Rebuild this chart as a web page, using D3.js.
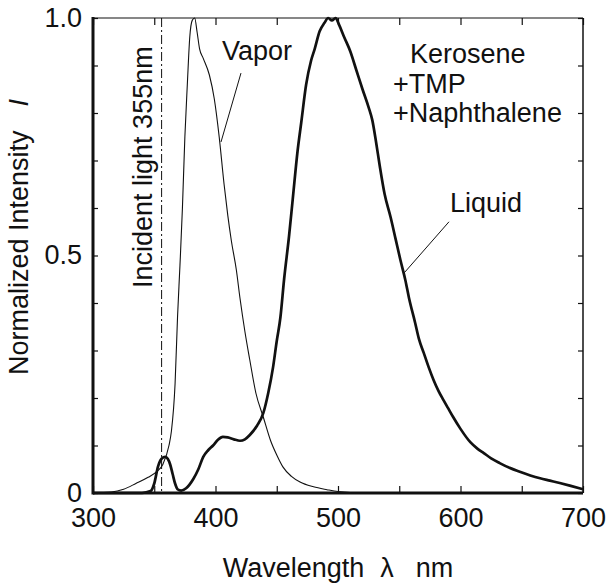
<!DOCTYPE html>
<html>
<head>
<meta charset="utf-8">
<script src="https://cdn.jsdelivr.net/npm/d3@7"></script>
<style>
  body { margin: 0; background: #fff; }
  text { font-family: "Liberation Sans", Arial, Helvetica, sans-serif; fill: #111; }
</style>
</head>
<body>
<svg id="chart" width="611" height="586"></svg>
<script>
// Vapor spectrum (thin line)
const vaporWavelength = [300, 315, 325, 335, 345, 352, 357, 362, 364, 367, 369, 371, 373, 375, 377, 379, 381, 383, 385, 387, 390, 395, 399, 403, 407, 410, 413, 417, 420, 424, 428, 433, 439, 445, 450, 455, 462, 469, 480, 491, 500, 520, 700];
const vaporIntensity  = [0, 0.002, 0.008, 0.02, 0.033, 0.045, 0.06, 0.1, 0.13, 0.23, 0.37, 0.48, 0.6, 0.75, 0.86, 0.96, 0.995, 1.0, 0.97, 0.935, 0.915, 0.88, 0.83, 0.75, 0.65, 0.585, 0.53, 0.47, 0.41, 0.34, 0.28, 0.21, 0.16, 0.11, 0.08, 0.055, 0.035, 0.023, 0.013, 0.007, 0.003, 0, 0];

// Liquid spectrum (thick line)
const liquidWavelength = [300, 340, 347, 350, 353, 356, 359, 361, 363, 365, 367, 369, 372, 376, 382, 386, 390, 394, 398, 402, 406, 410, 415, 420, 424, 428, 434, 439, 443, 447, 450, 453, 456, 460, 463, 467, 470, 474, 478, 481, 485, 489, 492, 495, 498, 501, 505, 510, 515, 520, 525, 528, 531, 534, 538, 543, 547, 551, 555, 558, 563, 566, 570, 574, 578, 582, 586, 590, 594, 600, 608, 614, 619, 625, 632, 640, 649, 657, 665, 673, 681, 690, 700];
const liquidIntensity  = [0, 0, 0.004, 0.02, 0.055, 0.072, 0.076, 0.072, 0.06, 0.04, 0.02, 0.008, 0.005, 0.01, 0.03, 0.05, 0.076, 0.09, 0.1, 0.112, 0.118, 0.117, 0.113, 0.11, 0.113, 0.122, 0.142, 0.168, 0.21, 0.265, 0.32, 0.37, 0.45, 0.54, 0.617, 0.72, 0.78, 0.86, 0.91, 0.935, 0.972, 0.99, 1.0, 0.995, 1.0, 0.985, 0.96, 0.93, 0.89, 0.85, 0.812, 0.785, 0.74, 0.69, 0.63, 0.58, 0.535, 0.49, 0.448, 0.41, 0.358, 0.325, 0.295, 0.265, 0.238, 0.215, 0.196, 0.178, 0.16, 0.135, 0.107, 0.093, 0.084, 0.073, 0.063, 0.053, 0.044, 0.037, 0.031, 0.026, 0.021, 0.015, 0.008];

const xTickLabels = [300, 400, 500, 600, 700];
const yTickLabels = [0, 0.5, 1.0];
const incidentWavelength = 356;

const width = 611, height = 586;
const margin = {top: 18, right: 28, bottom: 93, left: 93};
const iw = width - margin.left - margin.right;
const ih = height - margin.top - margin.bottom;

const svg = d3.select('#chart');
const g = svg.append('g').attr('transform', `translate(${margin.left},${margin.top})`);

const x = d3.scaleLinear().domain([300, 700]).range([0, iw]);
const y = d3.scaleLinear().domain([0, 1]).range([ih, 0]);

const fontSize = 27;

// minor ticks (inside) on all four sides
const xMinor = d3.range(300, 701, 50);
const yMinor = d3.range(0, 1.001, 0.1);

g.append('g').attr('transform', `translate(0,${ih})`)
  .call(d3.axisBottom(x).tickValues(xMinor).tickSize(-7).tickFormat(''))
  .call(a => a.select('.domain').remove());
g.append('g')
  .call(d3.axisTop(x).tickValues(xMinor).tickSize(-7).tickFormat(''))
  .call(a => a.select('.domain').remove());
g.append('g')
  .call(d3.axisLeft(y).tickValues(yMinor).tickSize(-5).tickFormat(''))
  .call(a => a.select('.domain').remove());
g.append('g').attr('transform', `translate(${iw},0)`)
  .call(d3.axisRight(y).tickValues(yMinor).tickSize(-5).tickFormat(''))
  .call(a => a.select('.domain').remove());

g.selectAll('.tick line').attr('stroke', '#111').attr('stroke-width', 1.2);

// tick labels
g.append('g').attr('transform', `translate(0,${ih})`)
  .call(d3.axisBottom(x).tickValues(xTickLabels).tickSize(0).tickPadding(15).tickFormat(d3.format('d')))
  .call(a => a.select('.domain').remove())
  .selectAll('text').attr('font-size', fontSize);
g.append('g')
  .call(d3.axisLeft(y).tickValues(yTickLabels).tickSize(0).tickPadding(11)
    .tickFormat(d => d === 0 ? '0' : d3.format('.1f')(d)))
  .call(a => a.select('.domain').remove())
  .selectAll('text').attr('font-size', fontSize).attr('dy', '0.3em');
svg.selectAll('.tick text').attr('fill', '#111').attr('font-family', '"Liberation Sans", Arial, sans-serif');

// frame: thick left/bottom, thin top/right
g.append('line').attr('x1', 0).attr('x2', iw).attr('y1', 0).attr('y2', 0).attr('stroke', '#111').attr('stroke-width', 1.2);
g.append('line').attr('x1', iw).attr('x2', iw).attr('y1', 0).attr('y2', ih).attr('stroke', '#111').attr('stroke-width', 1.5);
g.append('line').attr('x1', 0).attr('x2', 0).attr('y1', -1).attr('y2', ih + 1.5).attr('stroke', '#111').attr('stroke-width', 3);
g.append('line').attr('x1', 0).attr('x2', iw).attr('y1', ih).attr('y2', ih).attr('stroke', '#111').attr('stroke-width', 3);

// incident light marker
g.append('line')
  .attr('x1', x(incidentWavelength)).attr('x2', x(incidentWavelength))
  .attr('y1', y(1)).attr('y2', y(0))
  .attr('stroke', '#111').attr('stroke-width', 1)
  .attr('stroke-dasharray', '9,3,2,3');

const line = d3.line().x(d => x(d[0])).y(d => y(d[1])).curve(d3.curveMonotoneX);

g.append('path')
  .datum(vaporWavelength.map((w, i) => [w, vaporIntensity[i]]))
  .attr('d', line).attr('fill', 'none').attr('stroke', '#111').attr('stroke-width', 1.1);

g.append('path')
  .datum(liquidWavelength.map((w, i) => [w, liquidIntensity[i]]))
  .attr('d', line).attr('fill', 'none').attr('stroke', '#111').attr('stroke-width', 2.7)
  .attr('stroke-linejoin', 'round');

// annotations
const label = (wl, val, txt) => g.append('text')
  .attr('x', x(wl)).attr('y', y(val)).attr('font-size', fontSize).text(txt);

label(405.3, 0.912, 'Vapor');
label(591.4, 0.592, 'Liquid');
label(558.8, 0.905, 'Kerosene');
label(544.9, 0.842, '+TMP');
label(544.9, 0.781, '+Naphthalene');

const leader = (a, b) => g.append('line')
  .attr('x1', x(a[0])).attr('y1', y(a[1])).attr('x2', x(b[0])).attr('y2', y(b[1]))
  .attr('stroke', '#111').attr('stroke-width', 1);
leader([420.8, 0.884], [404.5, 0.739]);
leader([590.6, 0.571], [553.9, 0.463]);

g.append('text')
  .attr('transform', `translate(${x(348.2)},${y(0.686)}) rotate(-90)`)
  .attr('text-anchor', 'middle').attr('font-size', fontSize)
  .text('Incident light 355nm');

// axis titles
const xt = svg.append('text')
  .attr('x', margin.left + iw / 2).attr('y', 577)
  .attr('text-anchor', 'middle').attr('font-size', fontSize);
xt.append('tspan').text('Wavelength');
xt.append('tspan').attr('dx', 16).text('λ');
xt.append('tspan').attr('dx', 22).text('nm');

const yt = svg.append('text')
  .attr('transform', `translate(28,375) rotate(-90)`)
  .attr('font-size', fontSize);
yt.append('tspan').text('Normalized Intensity');
yt.append('tspan').attr('dx', 24).attr('font-style', 'italic').text('I');
</script>
</body>
</html>
